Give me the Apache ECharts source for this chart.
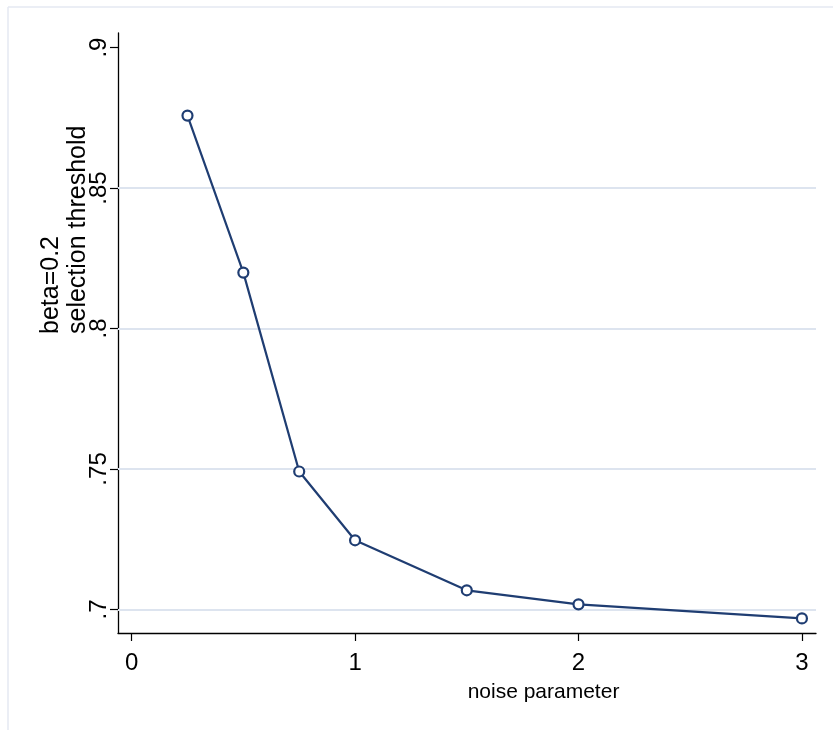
<!DOCTYPE html>
<html>
<head>
<meta charset="utf-8">
<script src="https://cdn.jsdelivr.net/npm/echarts@6/dist/echarts.min.js"></script>
<style>
html,body{margin:0;padding:0;background:#fff;}
#chart{width:833px;height:730px;}
</style>
</head>
<body>
<div id="chart"></div>
<script>
// ---- data ----
var noiseParam = [0.25, 0.5, 0.75, 1, 1.5, 2, 3];
var threshold  = [0.8758, 0.8199, 0.7491, 0.7246, 0.7068, 0.7018, 0.6968];
var xTicks = [0, 1, 2, 3];
var yTicks = [0.7, 0.75, 0.8, 0.85, 0.9];
var yTickLabels = ['.7', '.75', '.8', '.85', '.9'];
var yGridValues = [0.7, 0.75, 0.8, 0.85];
var xTitle = 'noise parameter';
var yTitleLines = ['beta=0.2', 'selection threshold'];

var FONT = "'Liberation Sans', Arial, Helvetica, sans-serif";
var NAVY = '#1f3d72';
var GRID = '#dde4ef';

var chart = echarts.init(document.getElementById('chart'), null, {renderer: 'canvas'});

var pts = noiseParam.map(function (x, i) { return [x, threshold[i]]; });

var option = {
  backgroundColor: '#ffffff',
  animation: false,
  grid: {left: 118, right: 17, top: 33, bottom: 97, containLabel: false},
  xAxis: {
    type: 'value',
    min: -0.061,
    max: 3.063,
    axisLine: {show: true, onZero: false, lineStyle: {color: '#000', width: 1.3}},
    axisTick: {show: true, length: 8, lineStyle: {color: '#000', width: 1.2}, customValues: xTicks},
    axisLabel: {show: true, customValues: xTicks, margin: 18, color: '#000', fontSize: 24, fontFamily: FONT,
      formatter: function (v) { return String(v); }},
    splitLine: {show: false}
  },
  yAxis: {
    type: 'value',
    min: 0.6916,
    max: 0.9052,
    axisLine: {show: true, onZero: false, lineStyle: {color: '#000', width: 1.3}},
    axisTick: {show: true, length: 8, lineStyle: {color: '#000', width: 1.2}, customValues: yTicks},
    axisLabel: {show: true, customValues: yTicks, rotate: 90, margin: 7, color: '#000', fontSize: 24, fontFamily: FONT,
      formatter: function (v) {
        for (var i = 0; i < yTicks.length; i++) {
          if (Math.abs(yTicks[i] - v) < 1e-6) return yTickLabels[i];
        }
        return '';
      }},
    splitLine: {show: false}
  },
  series: [{
    type: 'line',
    data: pts,
    symbol: 'circle',
    symbolSize: 10,
    showSymbol: true,
    lineStyle: {color: NAVY, width: 2.2},
    itemStyle: {color: '#ffffff', borderColor: NAVY, borderWidth: 2.2},
    z: 3,
    markLine: {
      silent: true,
      z: 1,
      symbol: ['none', 'none'],
      label: {show: false},
      lineStyle: {color: GRID, width: 2, type: 'solid'},
      data: yGridValues.map(function (v) { return {yAxis: v}; })
    }
  }],
  graphic: [
    {type: 'line', shape: {x1: 8, y1: 7, x2: 833, y2: 7}, style: {stroke: '#e4e8f2', lineWidth: 1.5}, silent: true},
    {type: 'line', shape: {x1: 8, y1: 7, x2: 8, y2: 730}, style: {stroke: '#e4e8f2', lineWidth: 1.5}, silent: true},
    {type: 'text', x: 543.5, y: 692, silent: true,
      style: {text: xTitle, fontSize: 21, fontFamily: FONT, fill: '#000', textAlign: 'center', textVerticalAlign: 'middle'}},
    {type: 'text', x: 65, y: 334, rotation: Math.PI / 2, silent: true,
      style: {text: yTitleLines.join('\n'), fontSize: 25, lineHeight: 27, fontFamily: FONT, fill: '#000', textAlign: 'left', textVerticalAlign: 'middle'}}
  ]
};

chart.setOption(option);
</script>
</body>
</html>
